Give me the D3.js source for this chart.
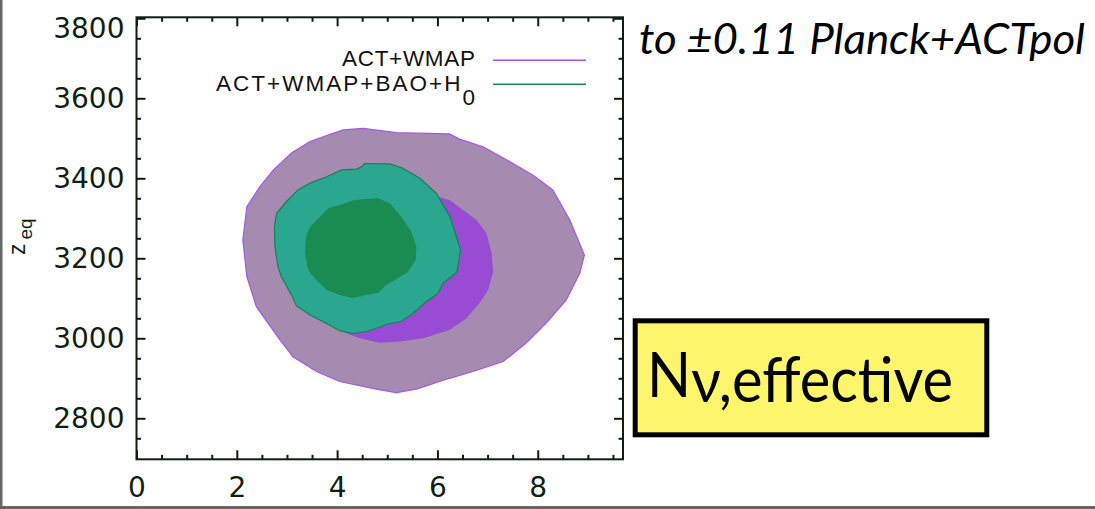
<!DOCTYPE html>
<html>
<head>
<meta charset="utf-8">
<script src="https://cdn.jsdelivr.net/npm/d3@7"></script>
<style>
  html, body { margin: 0; padding: 0; background: #fff; }
  svg { display: block; }
</style>
</head>
<body>
<div id="chart"></div>
<script>
// tick values
const xTicks = [0, 2, 4, 6, 8];
const yTicks = [2800, 3000, 3200, 3400, 3600, 3800];

// legend
const seriesNames = ["ACT+WMAP", "ACT+WMAP+BAO+H"];

// contours, [N_eff, z_eq]
const actWmap95 = [
  [4.12, 3521], [4.52, 3525], [5.18, 3514], [6.24, 3511], [6.44, 3498], [6.91, 3479],
  [7.44, 3442], [7.90, 3408], [8.30, 3371], [8.64, 3296], [8.93, 3208], [8.84, 3163],
  [8.57, 3096], [8.17, 3038], [7.77, 2988], [7.31, 2942], [6.71, 2917], [6.24, 2900],
  [5.58, 2873], [5.18, 2864], [4.78, 2873], [4.05, 2892], [3.59, 2917], [3.12, 2954],
  [2.86, 2996], [2.39, 3079], [2.20, 3154], [2.12, 3246], [2.20, 3329], [2.46, 3379],
  [2.73, 3421], [3.09, 3463], [3.46, 3492], [3.72, 3504]
];
const actWmap68 = [
  [6.01, 3354], [6.24, 3346], [6.78, 3296], [6.98, 3262], [7.08, 3212], [7.11, 3166],
  [7.01, 3121], [6.84, 3088], [6.58, 3050], [6.24, 3021], [5.71, 3000], [5.25, 2992],
  [4.85, 2989], [4.45, 3000], [4.19, 3012], [3.66, 3054], [3.32, 3129], [3.26, 3212],
  [3.46, 3296], [3.99, 3346], [4.65, 3367], [5.38, 3367]
];
const withBao95 = [
  [4.55, 3437], [5.05, 3436], [5.31, 3425], [5.65, 3400], [5.98, 3362], [6.25, 3304],
  [6.38, 3254], [6.46, 3221], [6.39, 3166], [6.11, 3137], [6.01, 3112], [5.78, 3092],
  [5.51, 3062], [5.28, 3042], [5.05, 3037], [4.78, 3025], [4.59, 3017], [4.32, 3012],
  [4.05, 3019], [3.79, 3037], [3.46, 3058], [3.19, 3081], [3.09, 3108], [2.89, 3154],
  [2.82, 3179], [2.76, 3229], [2.75, 3279], [2.79, 3312], [2.99, 3342], [3.22, 3371],
  [3.46, 3388], [3.79, 3404], [4.09, 3421], [4.39, 3423], [4.49, 3429]
];
const withBao68 = [
  [4.82, 3350], [5.05, 3337], [5.28, 3304], [5.48, 3267], [5.58, 3229], [5.57, 3196],
  [5.41, 3166], [5.15, 3146], [4.98, 3133], [4.82, 3114], [4.58, 3108], [4.32, 3101],
  [4.05, 3108], [3.79, 3121], [3.59, 3146], [3.42, 3171], [3.36, 3212], [3.38, 3254],
  [3.46, 3279], [3.66, 3304], [3.82, 3325], [4.05, 3333], [4.35, 3346], [4.59, 3348]
];

const W = 1095, H = 509;
const axisColor = "#0d1f12";

const svg = d3.select("#chart").append("svg")
  .attr("width", W)
  .attr("height", H);

// slide frame, grey on the left and bottom
svg.append("rect").attr("x", 0).attr("y", 0).attr("width", 2.5).attr("height", H).attr("fill", "#666");
svg.append("rect").attr("x", 0).attr("y", 506).attr("width", W).attr("height", 3).attr("fill", "#666");

const x = d3.scaleLinear().domain([0, 9.7]).range([136.5, 623]);
const y = d3.scaleLinear().domain([2697.5, 3802.5]).range([459.3, 17.3]);

const line = d3.line()
  .x(d => x(d[0]))
  .y(d => y(d[1]))
  .curve(d3.curveLinearClosed);

const plot = svg.append("g");

plot.append("path").datum(actWmap95)
  .attr("d", line)
  .attr("fill", "#a68bb0")
  .attr("stroke", "#a457e0")
  .attr("stroke-width", 1.2);

plot.append("path").datum(actWmap68)
  .attr("d", line)
  .attr("fill", "#984bd3");

plot.append("path").datum(withBao95)
  .attr("d", line)
  .attr("fill", "#2aa78f")
  .attr("stroke", "#1b7f55")
  .attr("stroke-width", 1.2);

plot.append("path").datum(withBao68)
  .attr("d", line)
  .attr("fill", "#1a8c52");

// axes: ticks point inward on all four sides
const xMinor = d3.range(0, 9.51, 0.5).filter(v => !xTicks.includes(v));
const yMinor = d3.range(2750, 3801, 50).filter(v => !yTicks.includes(v));
const x0 = x.range()[0], x1 = x.range()[1], y0 = y.range()[0], y1 = y.range()[1];

const axBottom = svg.append("g").attr("transform", `translate(0,${y0})`)
  .call(d3.axisBottom(x).tickValues(xTicks).tickFormat(d3.format("d"))
    .tickSizeInner(-9).tickSizeOuter(0).tickPadding(18));
const axBottomMinor = svg.append("g").attr("transform", `translate(0,${y0})`)
  .call(d3.axisBottom(x).tickValues(xMinor).tickSize(-4.5).tickFormat(""));
const axTop = svg.append("g").attr("transform", `translate(0,${y1})`)
  .call(d3.axisTop(x).tickValues(xTicks).tickSizeInner(-9).tickSizeOuter(0).tickFormat(""));
const axTopMinor = svg.append("g").attr("transform", `translate(0,${y1})`)
  .call(d3.axisTop(x).tickValues(xMinor).tickSize(-4.5).tickFormat(""));

const axLeft = svg.append("g").attr("transform", `translate(${x0},0)`)
  .call(d3.axisLeft(y).tickValues(yTicks).tickFormat(d3.format("d"))
    .tickSizeInner(-9).tickSizeOuter(0).tickPadding(12));
const axLeftMinor = svg.append("g").attr("transform", `translate(${x0},0)`)
  .call(d3.axisLeft(y).tickValues(yMinor).tickSize(-4.5).tickFormat(""));
const axRight = svg.append("g").attr("transform", `translate(${x1},0)`)
  .call(d3.axisRight(y).tickValues(yTicks).tickSizeInner(-9).tickSizeOuter(0).tickFormat(""));
const axRightMinor = svg.append("g").attr("transform", `translate(${x1},0)`)
  .call(d3.axisRight(y).tickValues(yMinor).tickSize(-4.5).tickFormat(""));

[axBottom, axBottomMinor, axTop, axTopMinor, axLeft, axLeftMinor, axRight, axRightMinor].forEach(g => {
  g.select(".domain").remove();
  g.selectAll("line").attr("stroke", axisColor).attr("stroke-width", 2);
  g.selectAll("text")
    .attr("fill", axisColor)
    .style("font-family", "'DejaVu Sans', sans-serif")
    .style("font-size", "28px");
});

// the 3800 label sits inside the frame
axLeft.selectAll(".tick text").filter(d => d === 3800).attr("dy", "0.68em");

// frame
svg.append("rect")
  .attr("x", x0).attr("y", y1)
  .attr("width", x1 - x0)
  .attr("height", y0 - y1)
  .attr("fill", "none")
  .attr("stroke", axisColor)
  .attr("stroke-width", 2);

// y label z_eq
const yl = svg.append("text")
  .attr("transform", "translate(25,255) rotate(-90)")
  .attr("fill", axisColor)
  .style("font-family", "'Liberation Sans', Arial, sans-serif")
  .style("font-size", "23px");
yl.append("tspan").text("z");
yl.append("tspan").attr("dx", 4).attr("dy", 7).style("font-size", "19px").text("eq");

// legend
const legend = svg.append("g")
  .style("font-family", "'Liberation Sans', Arial, sans-serif")
  .style("font-size", "22.5px")
  .attr("fill", "#111");

legend.append("text")
  .attr("x", 475).attr("y", 65.7)
  .attr("text-anchor", "end")
  .attr("textLength", 133)
  .attr("lengthAdjust", "spacing")
  .text(seriesNames[0]);

const l2 = legend.append("text")
  .attr("x", 475).attr("y", 90.7)
  .attr("text-anchor", "end")
  .attr("textLength", 259)
  .attr("lengthAdjust", "spacing");
l2.append("tspan").text(seriesNames[1]);
l2.append("tspan").attr("dy", 14).text("0");

legend.append("line")
  .attr("x1", 493).attr("x2", 586).attr("y1", 60.3).attr("y2", 60.3)
  .attr("stroke", "#a457e0").attr("stroke-width", 1.6);
legend.append("line")
  .attr("x1", 493).attr("x2", 586).attr("y1", 84.3).attr("y2", 84.3)
  .attr("stroke", "#1b8a55").attr("stroke-width", 1.6);

// slide annotation
svg.append("text")
  .attr("x", 639).attr("y", 53.5)
  .attr("textLength", 446)
  .attr("lengthAdjust", "spacingAndGlyphs")
  .style("font-family", "Lato, 'Open Sans', sans-serif")
  .style("font-style", "italic")
  .style("font-size", "43px")
  .attr("fill", "#000")
  .text("to \u00b10.11 Planck+ACTpol");

// yellow box
svg.append("rect")
  .attr("x", 635.2).attr("y", 320.8)
  .attr("width", 351.6).attr("height", 114)
  .attr("fill", "#fdf56b")
  .attr("stroke", "#000")
  .attr("stroke-width", 5);

const nu = svg.append("text")
  .attr("x", 647).attr("y", 396.7)
  .attr("textLength", 306)
  .attr("lengthAdjust", "spacingAndGlyphs")
  .style("font-family", "Lato, 'Open Sans', sans-serif")
  .style("font-size", "61px")
  .attr("fill", "#000");
nu.append("tspan").text("N");
nu.append("tspan").attr("dy", 5).text("\u03bd,effective");
</script>
</body>
</html>
